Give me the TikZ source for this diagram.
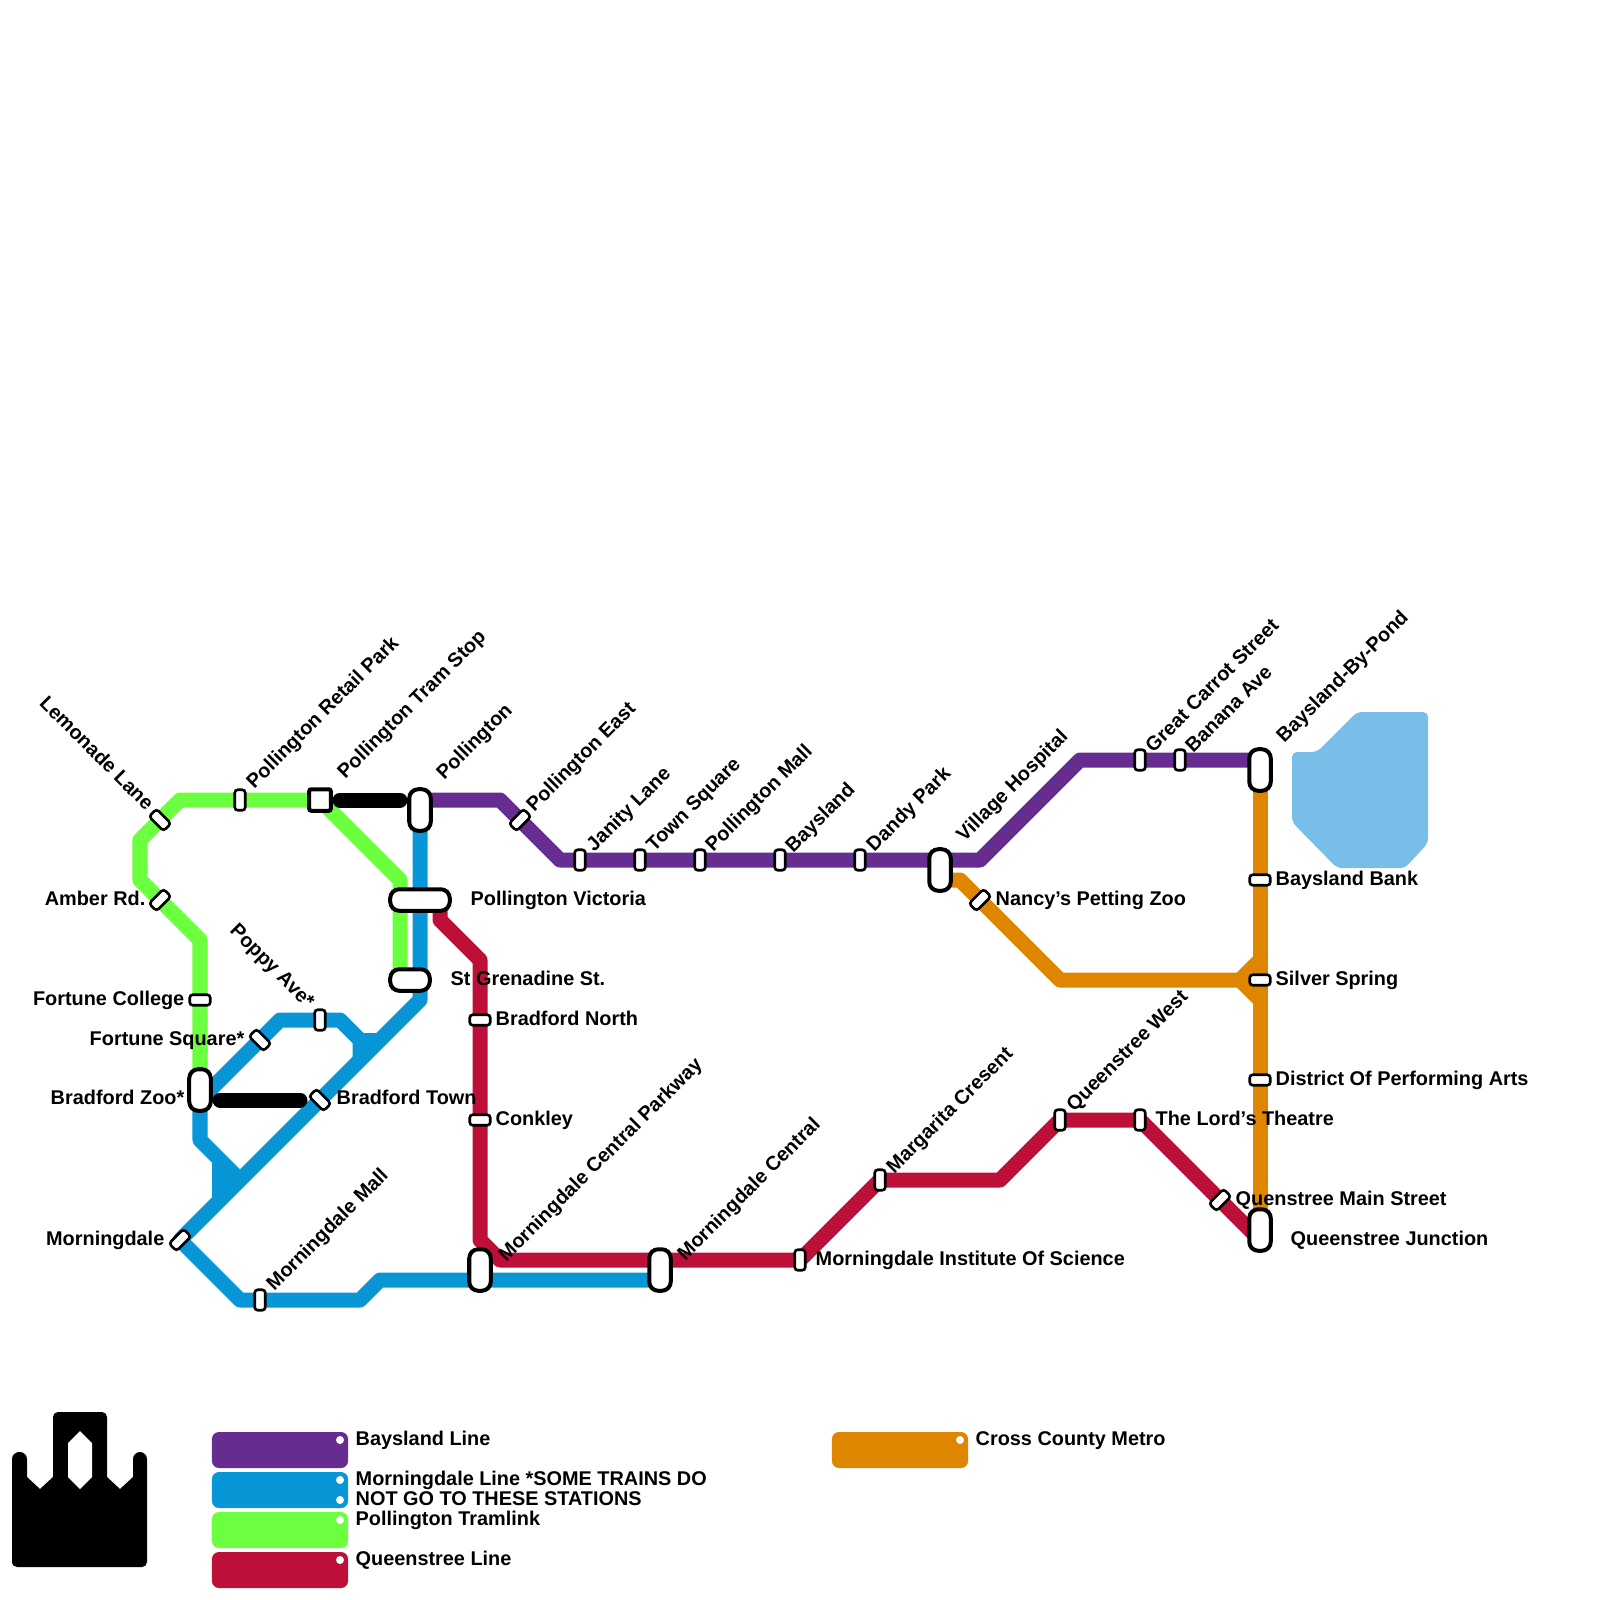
\documentclass[tikz,border=0pt]{standalone}
\usepackage{fontspec}
\setmainfont{Liberation Sans}
\usetikzlibrary{backgrounds}
\definecolor{baypurple}{HTML}{662C90}
\definecolor{mornblue}{HTML}{0896D7}
\definecolor{tramgreen}{HTML}{6CFF40}
\definecolor{queenred}{HTML}{BD1038}
\definecolor{crossorange}{HTML}{DF8600}
\definecolor{lakeblue}{HTML}{79BDE9}
\begin{document}
\begin{tikzpicture}[
        x=0.01cm, y=-0.01cm,
        line/.style={line width=0.15cm, line join=round},
        link/.style={line width=0.15cm, line cap=round, color=black},
        stationv/.style={rectangle, draw=black, fill=white, line width=0.026cm, inner sep=0pt, minimum width=0.105cm, minimum height=0.205cm, rounded corners=0.03cm},
        stationh/.style={stationv, rotate=90},
        stationb/.style={stationv, rotate=45},
        stationf/.style={stationv, rotate=-45},
        pill/.style={rectangle, draw=black, fill=white, line width=0.04cm, inner sep=0pt, minimum width=0.215cm, minimum height=0.415cm, rounded corners=0.09cm},
        tramstop/.style={rectangle, draw=black, fill=white, line width=0.04cm, inner sep=0pt, minimum size=0.215cm, rounded corners=0.02cm},
        lbl/.style={inner sep=0pt, text height=0.15cm, text depth=0.04cm, font=\fontsize{5.65}{6.8}\selectfont\bfseries},
        lblr/.style={lbl, anchor=west, yshift=-0.02cm},
        lbll/.style={lbl, anchor=east, yshift=-0.02cm},
        lblup/.style={lbl, anchor=west, rotate=45},
        lbldn/.style={lbl, anchor=east, rotate=-45},
        keybox/.style={rectangle, inner sep=0pt, minimum width=1.36cm, minimum height=0.36cm, rounded corners=0.07cm},
        keydot/.style={circle, fill=white, inner sep=0pt, minimum size=0.08cm}
    ]
    \useasboundingbox (0,0) rectangle (1600,1600);

    % ==========================================
    % STATIONS
    % ==========================================
    % Pollington Tramlink
    \node[stationb] (lemonade) at (160,820) {};
    \node[stationf] (amber) at (160,900) {};
    \node[stationv] (retail) at (240,800) {};
    \node[tramstop] (tramstop) at (320,800) {};
    \node[stationh] (college) at (200,1000) {};
    \node[pill] (zoo) at (200,1090) {};
    \node[pill, minimum height=0.395cm, rotate=90] (grenadine) at (410,980) {};

    % Morningdale Line
    \node[stationb] (square) at (260,1040) {};
    \node[stationv] (poppy) at (320,1020) {};
    \node[stationb] (btown) at (320,1100) {};
    \node[stationf] (morningdale) at (180,1240) {};
    \node[stationv] (mall) at (260,1300) {};
    \node[pill] (pollington) at (420,810) {};
    \node[pill, minimum height=0.595cm, rotate=90] (victoria) at (420,900) {};

    % Baysland Line
    \node[stationf] (polleast) at (520,820) {};
    \node[stationv] (janity) at (580,860) {};
    \node[stationv] (town) at (640,860) {};
    \node[stationv] (pollmall) at (700,860) {};
    \node[stationv] (baysland) at (780,860) {};
    \node[stationv] (dandy) at (860,860) {};
    \node[pill] (village) at (940,870) {};
    \node[stationv] (carrot) at (1140,760) {};
    \node[stationv] (banana) at (1180,760) {};
    \node[pill] (bypond) at (1260,770) {};

    % Cross County Metro
    \node[stationf] (nancy) at (980,900) {};
    \node[stationh] (bank) at (1260,880) {};
    \node[stationh] (silver) at (1260,980) {};
    \node[stationh] (district) at (1260,1080) {};
    \node[pill] (junction) at (1260,1230) {};

    % Queenstree Line
    \node[stationh] (bnorth) at (480,1020) {};
    \node[stationh] (conkley) at (480,1120) {};
    \node[pill] (parkway) at (480,1270) {};
    \node[pill] (central) at (660,1270) {};
    \node[stationv] (institute) at (800,1260) {};
    \node[stationv] (margarita) at (880,1180) {};
    \node[stationv] (qwest) at (1060,1120) {};
    \node[stationv] (lords) at (1140,1120) {};
    \node[stationf] (qmain) at (1220,1200) {};

    % ==========================================
    % BENDS OF THE LINES
    % ==========================================
    \coordinate (g1) at (180,800);
    \coordinate (g2) at (140,840);
    \coordinate (g3) at (140,880);
    \coordinate (g4) at (200,940);
    \coordinate (g5) at (400,880);
    \coordinate (g6) at (400,980);
    \coordinate (b1) at (420,1000);
    \coordinate (b2) at (240,1300);
    \coordinate (b3) at (360,1300);
    \coordinate (b4) at (380,1280);
    \coordinate (b5) at (200,1100);
    \coordinate (b6) at (280,1020);
    \coordinate (b7) at (340,1020);
    \coordinate (b8) at (360,1040);
    \coordinate (b9) at (360,1060);
    \coordinate (b10) at (380,1040);
    \coordinate (b11) at (200,1140);
    \coordinate (b12) at (240,1180);
    \coordinate (b13) at (220,1160);
    \coordinate (b14) at (220,1200);
    \coordinate (b16) at (220,1180);
    \coordinate (b15) at (660,1280);
    \coordinate (p1) at (420,800);
    \coordinate (p2) at (500,800);
    \coordinate (p3) at (560,860);
    \coordinate (p4) at (980,860);
    \coordinate (p5) at (1080,760);
    \coordinate (p6) at (1260,760);
    \coordinate (o1) at (940,880);
    \coordinate (o2) at (960,880);
    \coordinate (o3) at (1060,980);
    \coordinate (o4) at (1240,980);
    \coordinate (o5) at (1260,960);
    \coordinate (o6) at (1260,1000);
    \coordinate (r1) at (440,900);
    \coordinate (r2) at (440,920);
    \coordinate (r3) at (480,960);
    \coordinate (r4) at (480,1240);
    \coordinate (r5) at (500,1260);
    \coordinate (r6) at (1000,1180);
    \coordinate (r7) at (1260,1240);

    % ==========================================
    % LINES
    % ==========================================
    \begin{scope}[on background layer]
        \fill[lakeblue, rounded corners=0.05cm] (1292,752) -- (1317,752) -- (1357,712) -- (1428,712) -- (1428,843) -- (1405,868) -- (1337,868) -- (1292,822) -- cycle;

        \draw[line, tramgreen] (tramstop.center) -- (g1) -- (g2) -- (g3) -- (g4) -- (zoo.center);
        \draw[line, tramgreen] (tramstop.center) -- (g5) -- (g6);

        \draw[line, mornblue] (pollington.center) -- (b1) -- (morningdale.center) -- (b2) -- (b3) -- (b4) -- (b15);
        \draw[line, mornblue] (b5) -- (b6) -- (b7) -- (b8) -- (b9);
        \draw[line, mornblue] (b8) -- (b10);
        \draw[line, mornblue] (zoo.center) -- (b11) -- (b12);
        \draw[line, mornblue] (b13) -- (b14);
        \draw[line, mornblue] (b16) -- (b12);

        \draw[line, baypurple] (p1) -- (p2) -- (p3) -- (p4) -- (p5) -- (p6);

        \draw[line, crossorange] (o1) -- (o2) -- (o3) -- (o4) -- (o5);
        \draw[line, crossorange] (o4) -- (o6);
        \draw[line, crossorange] (bypond.center) -- (junction.center);

        \draw[line, queenred] (r1) -- (r2) -- (r3) -- (r4) -- (r5) -- (institute.center) -- (margarita.center) -- (r6) -- (qwest.center) -- (lords.center) -- (r7);

        % Walking links
        \draw[link] (340,800) -- (400,800);
        \draw[link] (220,1100) -- (300,1100);
    \end{scope}

    % ==========================================
    % LABELS
    % ==========================================
    \node[lbldn] (lemonadelbl) at (150,808) {Lemonade Lane};
    \node[lbll] (amberlbl) at (146,898) {Amber Rd.};
    \node[lblup] (retaillbl) at (250,786) {Pollington Retail Park};
    \node[lblup] (tramstoplbl) at (341,776) {Pollington Tram Stop};
    \node[lbll] (collegelbl) at (185,998) {Fortune College};
    \node[lbll] (squarelbl) at (245,1038) {Fortune Square*};
    \node[lbll] (zoolbl) at (185,1097) {Bradford Zoo*};
    \node[lbldn] (poppylbl) at (311,1006) {Poppy Ave*};
    \node[lblr] (btownlbl) at (336,1097) {Bradford Town};
    \node[lbll] (morningdalelbl) at (165,1238) {Morningdale};
    \node[lblup] (malllbl) at (270,1288) {Morningdale Mall};
    \node[lblup] (pollingtonlbl) at (440,777) {Pollington};
    \node[lblr] (victorialbl) at (470,898) {Pollington Victoria};
    \node[lblr] (grenadinelbl) at (450,978) {St Grenadine St.};
    \node[lblup] (polleastlbl) at (530,809) {Pollington East};
    \node[lblup] (janitylbl) at (590,849) {Janity Lane};
    \node[lblup] (townlbl) at (650,849) {Town Square};
    \node[lblup] (pollmalllbl) at (709,849) {Pollington Mall};
    \node[lblup] (bayslandlbl) at (789,850) {Baysland};
    \node[lblup] (dandylbl) at (870,849) {Dandy Park};
    \node[lblup] (villagelbl) at (960,839) {Village Hospital};
    \node[lblup] (carrotlbl) at (1149,750) {Great Carrot Street};
    \node[lblup] (bananalbl) at (1189,750) {Banana Ave};
    \node[lblup] (bypondlbl) at (1280,740) {Baysland-By-Pond};
    \node[lblr] (nancylbl) at (995,898) {Nancy’s Petting Zoo};
    \node[lblr] (banklbl) at (1275,878) {Baysland Bank};
    \node[lblr] (silverlbl) at (1275,978) {Silver Spring};
    \node[lblr] (districtlbl) at (1275,1078) {District Of Performing Arts};
    \node[lblr] (lordslbl) at (1155,1118) {The Lord’s Theatre};
    \node[lblr] (qmainlbl) at (1235,1198) {Quenstree Main Street};
    \node[lblr] (junctionlbl) at (1290,1238) {Queenstree Junction};
    \node[lblr] (bnorthlbl) at (495,1018) {Bradford North};
    \node[lblr] (conkleylbl) at (495,1118) {Conkley};
    \node[lblup] (parkwaylbl) at (502,1259) {Morningdale Central Parkway};
    \node[lblup] (centrallbl) at (681,1258) {Morningdale Central};
    \node[lblr] (institutelbl) at (815,1258) {Morningdale Institute Of Science};
    \node[lblup] (margaritalbl) at (890,1171) {Margarita Cresent};
    \node[lblup] (qwestlbl) at (1070,1109) {Queenstree West};

    % ==========================================
    % CROWN
    % ==========================================
    \fill[black] (12,1560) [rounded corners=0.07cm] -- (12,1452) -- (27,1452) [sharp corners] -- (27,1477) -- (40,1489) -- (53,1477) [rounded corners=0.05cm] -- (53,1412) -- (107,1412) [sharp corners] -- (107,1477) -- (120,1489) -- (133,1477) [rounded corners=0.07cm] -- (133,1452) -- (147,1452) [rounded corners=0.05cm] -- (147,1567) -- (12,1567) -- cycle;
    \fill[white] (80,1431) -- (92,1443) -- (92,1477) -- (80,1489) -- (68,1477) -- (68,1443) -- cycle;

    % ==========================================
    % KEY
    % ==========================================
    \node[keybox, fill=baypurple] (keybay) at (280,1450) {};
    \node[keybox, fill=mornblue] (keymorn) at (280,1490) {};
    \node[keybox, fill=tramgreen] (keytram) at (280,1530) {};
    \node[keybox, fill=queenred] (keyqueen) at (280,1570) {};
    \node[keybox, fill=crossorange] (keycross) at (900,1450) {};

    \node[keydot] (dotbay) at (340,1440) {};
    \node[keydot] (dotmorna) at (340,1480) {};
    \node[keydot] (dotmornb) at (340,1500) {};
    \node[keydot] (dottram) at (340,1520) {};
    \node[keydot] (dotqueen) at (340,1560) {};
    \node[keydot] (dotcross) at (960,1440) {};

    \node[lblr] (keybaylbl) at (355,1438) {Baysland Line};
    \node[lblr] (keymornlbla) at (355,1478) {Morningdale Line *SOME TRAINS DO};
    \node[lblr] (keymornlblb) at (355,1498) {NOT GO TO THESE STATIONS};
    \node[lblr] (keytramlbl) at (355,1518) {Pollington Tramlink};
    \node[lblr] (keyqueenlbl) at (355,1558) {Queenstree Line};
    \node[lblr] (keycrosslbl) at (975,1438) {Cross County Metro};
\end{tikzpicture}
\end{document}
